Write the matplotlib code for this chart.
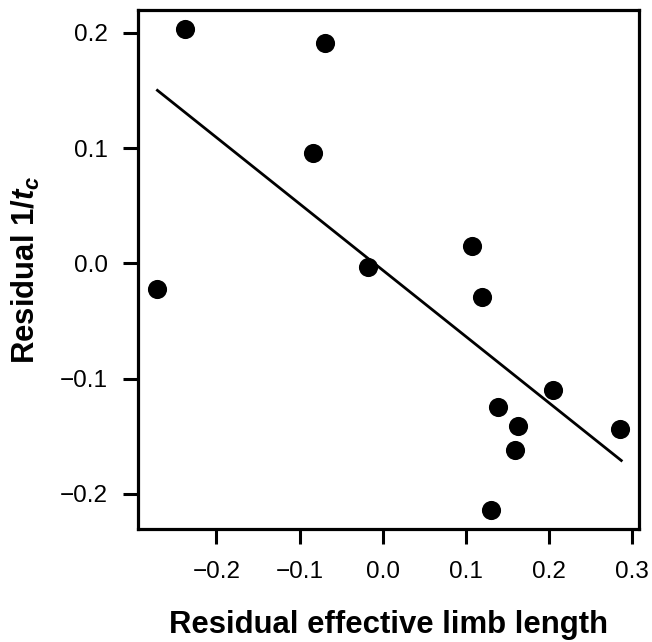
import numpy as np
import matplotlib
matplotlib.use('Agg')
import matplotlib.pyplot as plt

# residuals
resid_limb = [-0.272, -0.238, -0.070, -0.084, -0.018, 0.108, 0.120,
              0.205, 0.139, 0.163, 0.159, 0.286, 0.130]
resid_inv_tc = [-0.022, 0.203, 0.191, 0.0955, -0.003, 0.0153, -0.029,
                -0.110, -0.125, -0.141, -0.162, -0.144, -0.214]

# fitted line end points
fit_x = [-0.271, 0.287]
fit_y = [0.150, -0.171]

xticks = [-0.2, -0.1, 0.0, 0.1, 0.2, 0.3]
yticks = [-0.2, -0.1, 0.0, 0.1, 0.2]

plt.rcParams['font.family'] = ['Liberation Sans', 'DejaVu Sans']
plt.rcParams['mathtext.fontset'] = 'custom'
plt.rcParams['mathtext.bfit'] = 'Liberation Sans:italic:bold'
plt.rcParams['mathtext.it'] = 'Liberation Sans:italic'
plt.rcParams['mathtext.rm'] = 'Liberation Sans'

fig = plt.figure(figsize=(6.52, 6.42), dpi=100)
ax = fig.add_axes([0.2117, 0.1755, 0.7684, 0.8089])

ax.scatter(resid_limb, resid_inv_tc, s=190, color='black', zorder=3, linewidths=0)
ax.plot(fit_x, fit_y, color='black', lw=2.0)

# R style limits: data range plus 4%
def r_lim(v):
    lo, hi = min(v), max(v)
    pad = 0.04 * (hi - lo)
    return lo - pad, hi + pad

ax.set_xlim(r_lim(resid_limb))
ax.set_ylim(r_lim(resid_inv_tc))

def fmt(t):
    return '%.1f' % t if t >= 0 else '\u2212%.1f' % abs(t)

ax.set_xticks(xticks)
ax.set_yticks(yticks)
ax.set_xticklabels([fmt(t) for t in xticks])
ax.set_yticklabels([fmt(t) for t in yticks])
ax.tick_params(axis='both', direction='out', length=11, width=2.2, labelsize=17.5)
ax.tick_params(axis='x', pad=12)
ax.tick_params(axis='y', pad=10.5)

for sp in ax.spines.values():
    sp.set_linewidth(2.3)

ax.set_xlabel('Residual effective limb length', fontsize=22.4, fontweight='bold', va='center')
ax.xaxis.set_label_coords(0.5, -0.184)
ax.set_ylabel(r'Residual 1/$\mathbfit{t}_{\mathbfit{c}}$', fontsize=22.4, fontweight='bold', va='center')
ax.yaxis.set_label_coords(-0.2236, 0.5)

fig.savefig('out.png', dpi=100)
